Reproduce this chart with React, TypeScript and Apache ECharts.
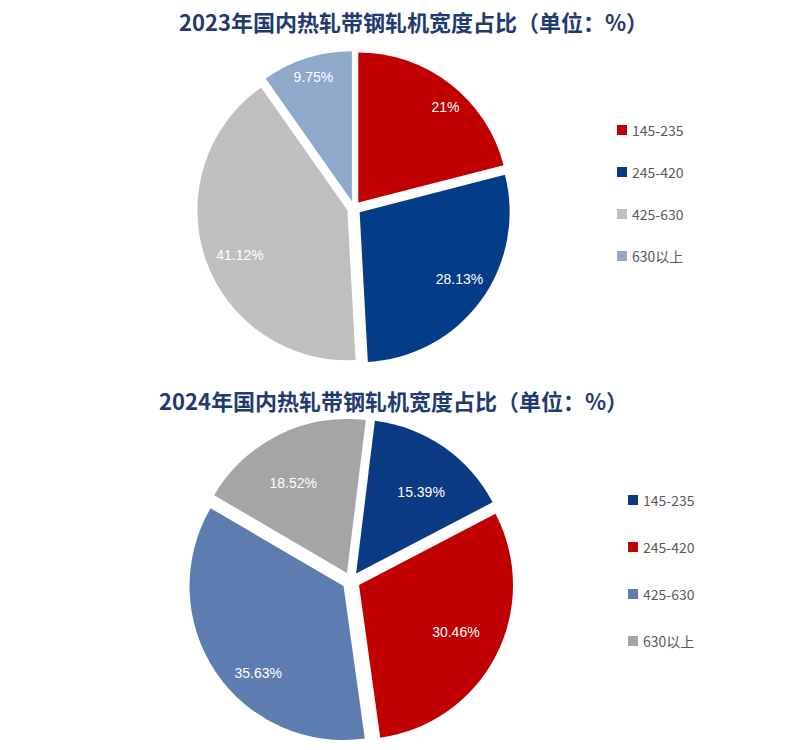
import React, { useEffect, useRef } from "react";
import * as echarts from "echarts";

const categories = ["145-235", "245-420", "425-630", "630以上"];
const values2023 = [21, 28.13, 41.12, 9.75];
const values2024 = [15.39, 30.46, 35.63, 18.52];
const labels2023 = ["21%", "28.13%", "41.12%", "9.75%"];
const labels2024 = ["15.39%", "30.46%", "35.63%", "18.52%"];
const colors2023 = ["#C00000", "#033C88", "#BFBFBF", "#8FA9CB"];
const colors2024 = ["#0B3A85", "#C00000", "#5D7CB0", "#A5A5A5"];
const title2023 = "2023年国内热轧带钢轧机宽度占比（单位：%）";
const title2024 = "2024年国内热轧带钢轧机宽度占比（单位：%）";

type Cfg = {
  title: string;
  titleLeft: number;
  titleTop: number;
  values: number[];
  labels: string[];
  colors: string[];
  center: [number, number];
  radius: number;
  labelInner: number;
  nudge: [number, number][];
  offset: number;
  startAngle: number;
  legendLeft: number;
  legendTop: number;
  legendGap: number;
};

function buildOption(c: Cfg) {
  const data = categories.map((name, i) => ({
    name,
    value: c.values[i],
    selected: true,
    itemStyle: { color: c.colors[i] },
  }));
  const labelData = categories.map((name, i) => ({
    name,
    value: c.values[i],
    selected: true,
    label: { formatter: c.labels[i] },
  }));
  return {
    animation: false,
    title: {
      text: c.title,
      left: c.titleLeft,
      top: c.titleTop,
      textStyle: {
        fontFamily: "Noto Sans CJK SC",
        fontWeight: "bold",
        fontSize: 22,
        color: "#1F3A70",
      },
    },
    legend: {
      orient: "vertical",
      left: c.legendLeft,
      top: c.legendTop,
      itemGap: c.legendGap,
      itemWidth: 10,
      itemHeight: 10,
      icon: "rect",
      selectedMode: false,
      data: categories,
      textStyle: {
        fontFamily: "Noto Sans CJK SC",
        fontSize: 14,
        color: "#595959",
        lineHeight: 14,
      },
    },
    series: [
      {
        type: "pie",
        center: c.center,
        radius: [0, c.radius],
        startAngle: c.startAngle,
        clockwise: true,
        selectedMode: "multiple",
        selectedOffset: c.offset,
        label: { show: false },
        labelLine: { show: false },
        emphasis: { disabled: true },
        data,
      },
      {
        type: "pie",
        center: c.center,
        radius: [c.radius * c.labelInner, c.radius],
        startAngle: c.startAngle,
        clockwise: true,
        selectedMode: "multiple",
        selectedOffset: c.offset,
        silent: true,
        itemStyle: { color: "rgba(0,0,0,0)" },
        label: {
          show: true,
          position: "inside",
          color: "#FFFFFF",
          fontSize: 14,
          fontFamily: "Liberation Sans",
        },
        labelLayout: (p: any) => ({
          dx: c.nudge[p.dataIndex][0],
          dy: c.nudge[p.dataIndex][1],
        }),
        labelLine: { show: false },
        emphasis: { disabled: true },
        data: labelData,
      },
    ],
  };
}

function PieChart({ cfg, top }: { cfg: Cfg; top: number }) {
  const ref = useRef<HTMLDivElement>(null);
  useEffect(() => {
    if (!ref.current) return;
    const chart = echarts.init(ref.current, undefined, { renderer: "svg" });
    chart.setOption(buildOption(cfg) as any);
    return () => chart.dispose();
  }, []);
  return (
    <div
      ref={ref}
      style={{ position: "absolute", left: 0, top, width: 800, height: 375 }}
    />
  );
}

export default function App() {
  const cfg1: Cfg = {
    title: title2023,
    titleLeft: 174,
    titleTop: 5,
    values: values2023,
    labels: labels2023,
    colors: colors2023,
    center: [354, 208],
    radius: 150,
    labelInner: 0.66,
    nudge: [
      [9, 5],
      [-3, -9],
      [13, 3],
      [0, -3],
    ],
    offset: 7,
    startAngle: 90,
    legendLeft: 612,
    legendTop: 118,
    legendGap: 28,
  };
  const cfg2: Cfg = {
    title: title2024,
    titleLeft: 154,
    titleTop: 9,
    values: values2024,
    labels: labels2024,
    colors: colors2024,
    center: [351, 206],
    radius: 154,
    labelInner: 0.42,
    nudge: [
      [1, 11],
      [-3, -5],
      [8, 24],
      [-4, 11],
    ],
    offset: 9,
    startAngle: 83,
    legendLeft: 623,
    legendTop: 113,
    legendGap: 33,
  };
  return (
    <div
      style={{
        position: "fixed",
        left: 0,
        top: 0,
        width: 800,
        height: 750,
        background: "#FFFFFF",
      }}
    >
      <PieChart cfg={cfg1} top={0} />
      <PieChart cfg={cfg2} top={375} />
    </div>
  );
}
